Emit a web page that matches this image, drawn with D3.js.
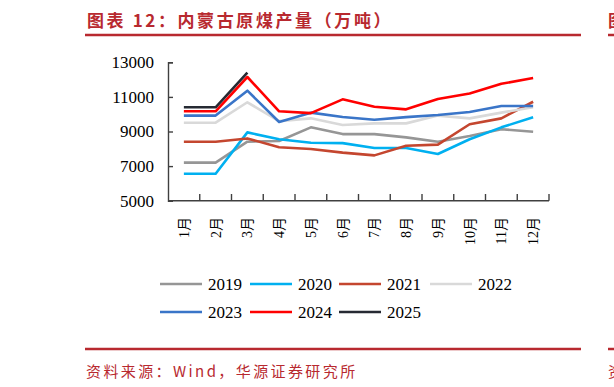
<html>
<head>
<meta charset="utf-8">
<script src="https://d3js.org/d3.v7.min.js"></script>
<style>
body { margin: 0; background: #fff; }
</style>
</head>
<body>
<div id="chart"></div>
<script>

const red = "#b8292f";
const axisColor = "#404040";

var months = ["1月","2月","3月","4月","5月","6月","7月","8月","9月","10月","11月","12月"];
var yTicks = [5000, 7000, 9000, 11000, 13000];

var y2019 = [7200, 7200, 8410, 8450, 9240, 8850, 8850, 8660, 8410, 8740, 9130, 8990];
var y2020 = [6560, 6560, 8950, 8550, 8350, 8330, 8050, 8050, 7700, 8550, 9240, 9820];
var y2021 = [8410, 8410, 8600, 8090, 7990, 7780, 7620, 8180, 8240, 9420, 9760, 10720];
var y2022 = [9510, 9510, 10690, 9600, 9760, 9380, 9470, 9470, 9920, 9760, 10090, 10400];
var y2023 = [9920, 9920, 11360, 9550, 10090, 9840, 9680, 9830, 9950, 10130, 10470, 10470];
var y2024 = [10170, 10170, 12150, 10170, 10060, 10860, 10430, 10280, 10880, 11200, 11760, 12090];
var y2025 = [10400, 10400, 12400];

var series = [
  { name: "2019", color: "#969696", values: y2019 },
  { name: "2020", color: "#00b0f0", values: y2020 },
  { name: "2021", color: "#c4462f", values: y2021 },
  { name: "2022", color: "#d9d9d9", values: y2022 },
  { name: "2023", color: "#3a75c8", values: y2023 },
  { name: "2024", color: "#ff0000", values: y2024 },
  { name: "2025", color: "#262a33", values: y2025 }
];

var svg = d3.select("#chart").append("svg")
            .attr("width", 614)
            .attr("height", 387);

// header and footer
svg.append("text")
   .attr("x", 87).attr("y", 27)
   .attr("font-family", "Noto Sans CJK SC")
   .attr("font-size", "17px")
   .attr("font-weight", "bold")
   .attr("letter-spacing", "2.6px")
   .attr("fill", red)
   .text("图表 12：内蒙古原煤产量（万吨）");

svg.append("line")
   .attr("x1", 85).attr("x2", 581).attr("y1", 35).attr("y2", 35)
   .attr("stroke", red).attr("stroke-width", 2.5);
svg.append("line")
   .attr("x1", 608).attr("x2", 614).attr("y1", 35).attr("y2", 35)
   .attr("stroke", red).attr("stroke-width", 2.5);
svg.append("text")
   .attr("x", 608).attr("y", 27)
   .attr("font-family", "Noto Sans CJK SC")
   .attr("font-size", "17px")
   .attr("font-weight", "bold")
   .attr("fill", red)
   .text("图");

svg.append("line")
   .attr("x1", 85).attr("x2", 581).attr("y1", 349).attr("y2", 349)
   .attr("stroke", red).attr("stroke-width", 2.5);
svg.append("line")
   .attr("x1", 608).attr("x2", 614).attr("y1", 349).attr("y2", 349)
   .attr("stroke", red).attr("stroke-width", 2.5);
svg.append("text")
   .attr("x", 86).attr("y", 377)
   .attr("font-family", "Noto Sans CJK SC")
   .attr("font-size", "15px")
   .attr("letter-spacing", "2.4px")
   .attr("fill", red)
   .text("资料来源：Wind，华源证券研究所");
svg.append("text")
   .attr("x", 608).attr("y", 377)
   .attr("font-family", "Noto Sans CJK SC")
   .attr("font-size", "15px")
   .attr("fill", red)
   .text("资");

// scales
var x = d3.scaleBand().domain(months).range([168, 549]);
var y = d3.scaleLinear().domain([5000, 13000]).range([200.7, 62.3]);

// lines
var line = d3.line()
             .x(function(d, i) { return x(months[i]) + x.bandwidth() / 2; })
             .y(function(d) { return y(d); });

svg.selectAll(".series")
   .data(series)
   .enter()
   .append("path")
   .attr("d", function(d) { return line(d.values); })
   .attr("fill", "none")
   .attr("stroke", function(d) { return d.color; })
   .attr("stroke-width", 2.6)
   .attr("stroke-linejoin", "round");

// y axis
var yAxis = svg.append("g")
               .attr("transform", "translate(168,0)")
               .call(d3.axisLeft(y).tickValues(yTicks).tickSize(-5).tickPadding(14).tickFormat(d3.format("d")));
yAxis.select(".domain").attr("stroke", axisColor).attr("stroke-width", 1.4);
yAxis.selectAll(".tick line").attr("stroke", axisColor).attr("stroke-width", 1.4);
yAxis.selectAll("text")
     .attr("font-family", "Liberation Serif")
     .attr("font-size", "17px")
     .attr("fill", "#000");

// x axis
svg.append("line")
   .attr("x1", 168).attr("x2", 549).attr("y1", 200.7).attr("y2", 200.7)
   .attr("stroke", axisColor).attr("stroke-width", 1.6);

svg.selectAll(".xtick")
   .data(months.slice(1).concat(["end"]))
   .enter()
   .append("line")
   .attr("x1", function(d, i) { return x(months[i]) + x.step(); })
   .attr("x2", function(d, i) { return x(months[i]) + x.step(); })
   .attr("y1", 200.7).attr("y2", 194)
   .attr("stroke", axisColor).attr("stroke-width", 1.4);

svg.selectAll(".xlabel")
   .data(months)
   .enter()
   .append("text")
   .attr("transform", function(d) { return "translate(" + (x(d) + x.bandwidth() / 2 + 5) + ",217) rotate(-90)"; })
   .attr("text-anchor", "end")
   .attr("font-family", "Liberation Serif, Noto Sans CJK SC")
   .attr("font-size", "14px")
   .attr("fill", "#000")
   .text(function(d) { return d; });

// legend
var legendPos = [[160, 284], [250, 284], [339, 284], [430, 284], [160, 312], [250, 312], [339, 312]];

var legend = svg.selectAll(".legend")
                .data(series)
                .enter()
                .append("g")
                .attr("transform", function(d, i) { return "translate(" + legendPos[i][0] + "," + legendPos[i][1] + ")"; });

legend.append("line")
      .attr("x1", 0).attr("x2", 42).attr("y1", 0).attr("y2", 0)
      .attr("stroke", function(d) { return d.color; })
      .attr("stroke-width", 2.6);

legend.append("text")
      .attr("x", 48).attr("y", 6)
      .attr("font-family", "Liberation Serif")
      .attr("font-size", "17px")
      .attr("fill", "#000")
      .text(function(d) { return d.name; });

</script>
</body>
</html>
